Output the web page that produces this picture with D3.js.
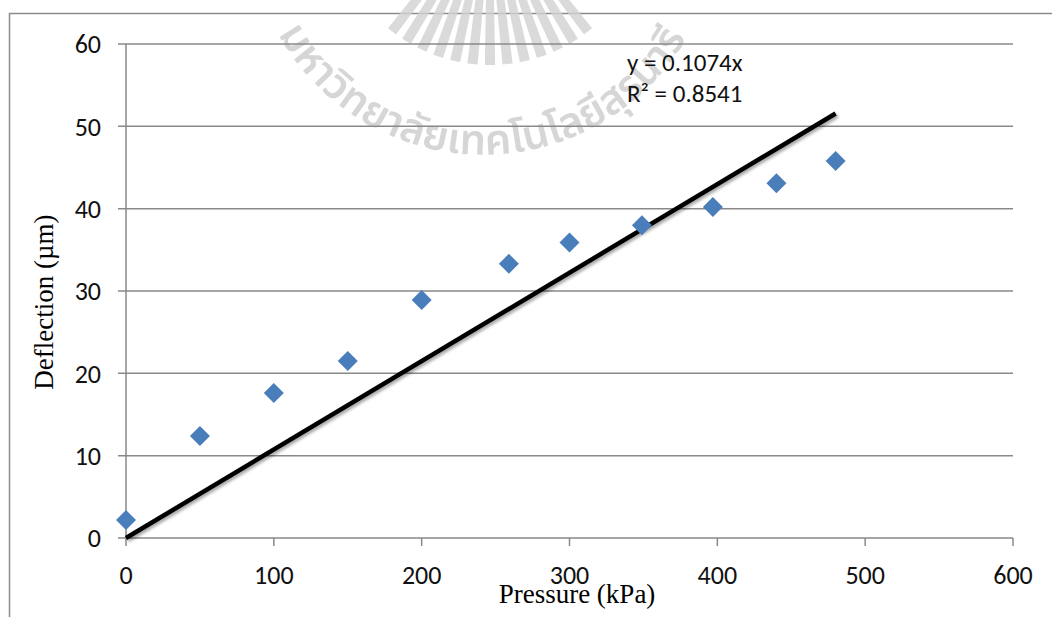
<!DOCTYPE html>
<html><head><meta charset="utf-8">
<script src="https://cdn.jsdelivr.net/npm/d3@7"></script>
<style>body{margin:0;background:#fff}svg{display:block}</style>
</head><body>
<svg id="c" width="1052" height="617"></svg>
<script>
const pressure = [0, 50, 100, 150, 200, 259, 300, 349, 397, 440, 480];
const deflection = [2.2, 12.4, 17.6, 21.5, 28.9, 33.3, 35.9, 38.0, 40.2, 43.1, 45.8];
const xTicks = [0, 100, 200, 300, 400, 500, 600];
const yTicks = [0, 10, 20, 30, 40, 50, 60];
const slope = 0.1074;
const eqLines = ["y = 0.1074x", "R² = 0.8541"];
const trendX = [0, 480];
const xTitle = "Pressure (kPa)";
const yTitle = "Deflection (µm)";
const watermark = "มหาวิทยาลัยเทคโนโลยีสุรนารี";

const svg = d3.select("#c");
const x = d3.scaleLinear().domain([0, 600]).range([126, 1013]);
const y = d3.scaleLinear().domain([0, 60]).range([538, 44]);
const grid = "#898989";
const tickFont = "Carlito, Lato, 'Open Sans', sans-serif";

// outer border
svg.append("path").attr("d", "M9.5,617 V13.5 H1052").attr("fill", "none").attr("stroke", "#8c8c8c").attr("stroke-width", 1.5);

// watermark
const defs = svg.append("defs");
const f = defs.append("filter").attr("id", "sh").attr("x", "-10%").attr("y", "-10%").attr("width", "120%").attr("height", "120%");
f.append("feDropShadow").attr("dx", 2).attr("dy", 2).attr("stdDeviation", 1.5).attr("flood-color", "#000").attr("flood-opacity", 0.35);
defs.append("path").attr("id", "arc").attr("d", "M 270,18 A 235,235 0 0 0 715,-40");
const wm = svg.append("g").attr("opacity", 0.8);
const rays = d3.range(-6, 7);
wm.selectAll("path.ray").data(rays).join("path")
  .attr("d", d => {
    const cx = 490, cy = -95, a = d * 0.11 + Math.PI / 2;
    const r1 = 90, r2 = 160, w = 0.032;
    const p = (r, t) => [cx + r * Math.cos(t), cy + r * Math.sin(t)];
    const A = p(r1, a - w * 1.4), B = p(r2, a - w), C = p(r2, a + w), D = p(r1, a + w * 1.4);
    return `M${A}L${B}L${C}L${D}Z`;
  }).attr("fill", "#d2d2d2");
wm.append("text").attr("font-family", "'Noto Sans Thai','Noto Sans','DejaVu Sans',sans-serif")
  .attr("font-size", 42).attr("font-weight", 600).attr("fill", "#cdcdcd")
  .append("textPath").attr("href", "#arc").attr("startOffset", "3%").text(watermark);

// gridlines
svg.append("g").selectAll("line").data(yTicks).join("line")
  .attr("x1", 118).attr("x2", 1013).attr("y1", d => y(d)).attr("y2", d => y(d))
  .attr("stroke", grid).attr("stroke-width", 1.5);
// y axis line
svg.append("line").attr("x1", x(0)).attr("x2", x(0)).attr("y1", y(60)).attr("y2", y(0)).attr("stroke", grid).attr("stroke-width", 1.5);
// x ticks
svg.append("g").selectAll("line").data(xTicks).join("line")
  .attr("x1", d => x(d)).attr("x2", d => x(d)).attr("y1", y(0)).attr("y2", y(0) + 8)
  .attr("stroke", grid).attr("stroke-width", 1.5);

// tick labels
svg.append("g").selectAll("text").data(yTicks).join("text")
  .attr("x", 101).attr("y", d => y(d)).attr("dy", "0.36em").attr("text-anchor", "end")
  .attr("font-family", tickFont).attr("font-size", 26).attr("fill", "#111").text(d => d);
svg.append("g").selectAll("text").data(xTicks).join("text")
  .attr("x", d => x(d)).attr("y", 584).attr("text-anchor", "middle")
  .attr("font-family", tickFont).attr("font-size", 26).attr("fill", "#111").text(d => d);

// trendline
const line = d3.line().x(d => x(d)).y(d => y(slope * d));
svg.append("path").datum(trendX).attr("d", line).attr("stroke", "#000").attr("stroke-width", 4.5)
  .attr("fill", "none").attr("filter", "url(#sh)");

// points
const pts = pressure.map((p, i) => [p, deflection[i]]);
svg.append("g").selectAll("path").data(pts).join("path")
  .attr("d", d3.symbol().type(d3.symbolSquare).size(200)())
  .attr("transform", d => `translate(${x(d[0])},${y(d[1])}) rotate(45)`)
  .attr("fill", "#4a7ebb");

// equation
svg.append("g").selectAll("text").data(eqLines).join("text")
  .attr("x", 627).attr("y", (d, i) => 71 + i * 31)
  .attr("font-family", tickFont).attr("font-size", 25).attr("fill", "#111").text(d => d);

// axis titles
svg.append("text").attr("x", 577).attr("y", 603).attr("text-anchor", "middle")
  .attr("font-family", "'Liberation Serif','Times New Roman',serif").attr("font-size", 27).text(xTitle);
svg.append("text").attr("transform", "translate(53,302) rotate(-90)").attr("text-anchor", "middle")
  .attr("font-family", "'Liberation Serif','Times New Roman',serif").attr("font-size", 27).text(yTitle);
</script>
</body></html>
